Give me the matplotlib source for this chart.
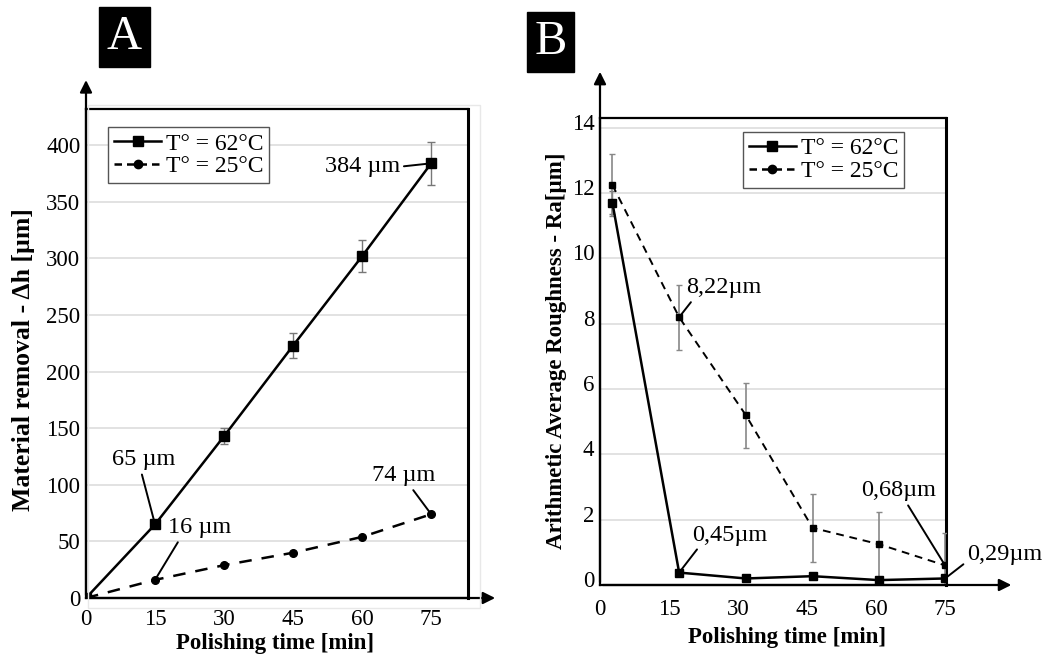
import matplotlib
matplotlib.use("Agg")
import matplotlib.pyplot as plt
from matplotlib.patches import Rectangle
from matplotlib.lines import Line2D
from matplotlib.transforms import ScaledTranslation

plt.rcParams['font.family'] = ['Liberation Serif', 'DejaVu Serif']

# panel A - material removal
time_a = [0, 15, 30, 45, 60, 75]
removal_62 = [0, 65, 143, 223, 302, 384]
removal_62_err = [0, 3, 7, 11, 14, 19]
removal_25 = [0, 16, 29, 40, 54, 74]

# panel B - roughness
time_b = [2.7, 17.2, 31.7, 46.2, 60.6, 75]
ra_62 = [11.7, 0.38, 0.2, 0.27, 0.15, 0.2]
ra_62_err = [0.35, 0.05, 0.05, 0.05, 0.05, 0.05]
ra_25 = [12.25, 8.2, 5.2, 1.75, 1.25, 0.6]
ra_25_err = [0.95, 1.0, 1.0, 1.05, 1.0, 1.0]

xticks = [0, 15, 30, 45, 60, 75]
legend_labels = ['T° = 62°C', 'T° = 25°C']

W, H = 1043, 666
fig = plt.figure(figsize=(W / 100, H / 100), dpi=100)


def px_axes(left, top, right, bottom):
    return fig.add_axes([left / W, 1 - bottom / H, (right - left) / W, (bottom - top) / H])


def style_axes(ax, xmax, ymax):
    ax.set_xlim(0, xmax)
    ax.set_ylim(0, ymax)
    ax.grid(axis='y', color='#dddddd', lw=1.2)
    ax.set_axisbelow(True)
    ax.tick_params(length=0, labelsize=16.5, pad=4)
    for s in ax.spines.values():
        s.set_linewidth(1.6)
    ax.spines['right'].set_linewidth(2.2)


def add_legend(ax, anchor):
    proxies = [Line2D([], [], color='black', lw=1.8, marker='s', ms=7),
               Line2D([], [], color='black', lw=1.8, ls=(0, (3, 2)), marker='o', ms=6)]
    leg = ax.legend(proxies, legend_labels, loc='upper left', bbox_to_anchor=anchor, borderaxespad=0,
                    fontsize=17, frameon=True, fancybox=False, edgecolor='#555555', framealpha=1,
                    handlelength=2.0, handletextpad=0.2, labelspacing=0.05, borderpad=0.25)
    leg.get_frame().set_linewidth(1)


# faint chart-area frame of A
fig.patches.append(Rectangle((88 / W, 1 - 608 / H), (480 - 88) / W, (608 - 105) / H,
                             transform=fig.transFigure, fill=False, ec='#e8e8e8', lw=1))

# ---------------- A ----------------
ax1 = px_axes(86, 109, 468, 598)
style_axes(ax1, 83, 432)
ax1.set_xticks(xticks)
ax1.set_yticks(range(0, 401, 50))
ax1.tick_params(axis='x', pad=8)
ax1.errorbar(time_a, removal_62, yerr=removal_62_err, color='black', lw=1.8, marker='s', ms=7,
             ecolor='#777777', elinewidth=1, capsize=3, zorder=3)
ax1.plot(time_a, removal_25, color='black', lw=1.8, ls=(0, (5, 4)), marker='o', ms=5.5, zorder=3)
ax1.annotate('', xy=(0, 460), xytext=(0, 0), annotation_clip=False,
             arrowprops=dict(arrowstyle='-|>', color='black', lw=1.6, mutation_scale=18))
ax1.annotate('', xy=(89.5, 0), xytext=(0, 0), annotation_clip=False,
             arrowprops=dict(arrowstyle='-|>', color='black', lw=1.6, mutation_scale=18))

ann_a = [('384 µm', 75, 384, 60.0, 381, (1, 0.5)),
         ('65 µm', 15, 65, 12.6, 122, (0.45, 0)),
         ('16 µm', 15, 16, 24.6, 62, (0.2, 0)),
         ('74 µm', 75, 74, 69.1, 108, (0.6, 0))]
for txt, x, y, tx, ty, rp in ann_a:
    ax1.annotate(txt, xy=(x, y), xytext=(tx, ty), ha='center', va='center', fontsize=17.5,
                 arrowprops=dict(arrowstyle='-', color='black', lw=1.4, relpos=rp, shrinkA=1, shrinkB=2))

add_legend(ax1, (0.058, 0.963))

# ---------------- B ----------------
ax2 = px_axes(600, 118, 946, 585)
style_axes(ax2, 75.2, 14.3)
ax2.set_xticks(xticks)
ax2.set_yticks(range(0, 15, 2))
ax2.tick_params(axis='x', pad=10)
for lab in ax2.get_yticklabels():
    lab.set_transform(lab.get_transform() + ScaledTranslation(0, 6 / 100, fig.dpi_scale_trans))
ax2.errorbar(time_b, ra_62, yerr=ra_62_err, color='black', lw=1.8, marker='s', ms=6,
             ecolor='#777777', elinewidth=1, capsize=2, zorder=3)
ax2.errorbar(time_b, ra_25, yerr=ra_25_err, color='black', lw=1.4, ls=(0, (4, 3)), marker='s', ms=4,
             ecolor='#888888', elinewidth=1.2, capsize=2, zorder=3)
ax2.annotate('', xy=(0, 15.8), xytext=(0, 0), annotation_clip=False,
             arrowprops=dict(arrowstyle='-|>', color='black', lw=1.6, mutation_scale=18))
ax2.annotate('', xy=(90, 0), xytext=(0, 0), annotation_clip=False,
             arrowprops=dict(arrowstyle='-|>', color='black', lw=1.6, mutation_scale=18))

ann_b = [('8,22µm', time_b[1], ra_25[1], 27.0, 9.1, (0.12, 0.1)),
         ('0,45µm', time_b[1], ra_62[1], 28.3, 1.53, (0.12, 0.1)),
         ('0,68µm', time_b[5], ra_25[5], 64.8, 2.88, (0.6, 0)),
         ('0,29µm', time_b[5], ra_62[5], 88.0, 0.92, (0, 0.2))]
for txt, x, y, tx, ty, rp in ann_b:
    ax2.annotate(txt, xy=(x, y), xytext=(tx, ty), ha='center', va='center', fontsize=17.5,
                 annotation_clip=False,
                 arrowprops=dict(arrowstyle='-', color='black', lw=1.4, relpos=rp, shrinkA=1, shrinkB=2))

add_legend(ax2, (0.413, 0.970))

# axis titles
lab_kw = dict(fontweight='bold', ha='center', va='center')
fig.text(24 / W, 1 - 360 / H, 'Material removal - Δh [µm]', rotation=90, fontsize=18.5, **lab_kw)
fig.text(275 / W, 1 - 643 / H, 'Polishing time [min]', fontsize=16.5, **lab_kw)
fig.text(556 / W, 1 - 351 / H, 'Arithmetic Average Roughness - Ra[µm]', rotation=90, fontsize=16.5, **lab_kw)
fig.text(787 / W, 1 - 638 / H, 'Polishing time [min]', fontsize=16.5, **lab_kw)

# panel letters
box_kw = dict(boxstyle='square,pad=0.16', fc='black', ec='black')
fig.text(124.5 / W, 1 - 37 / H, 'A', color='white', fontsize=35, ha='center', va='center', bbox=box_kw)
fig.text(550.5 / W, 1 - 42 / H, 'B', color='white', fontsize=35, ha='center', va='center', bbox=box_kw)

fig.savefig('out.png', dpi=100)
